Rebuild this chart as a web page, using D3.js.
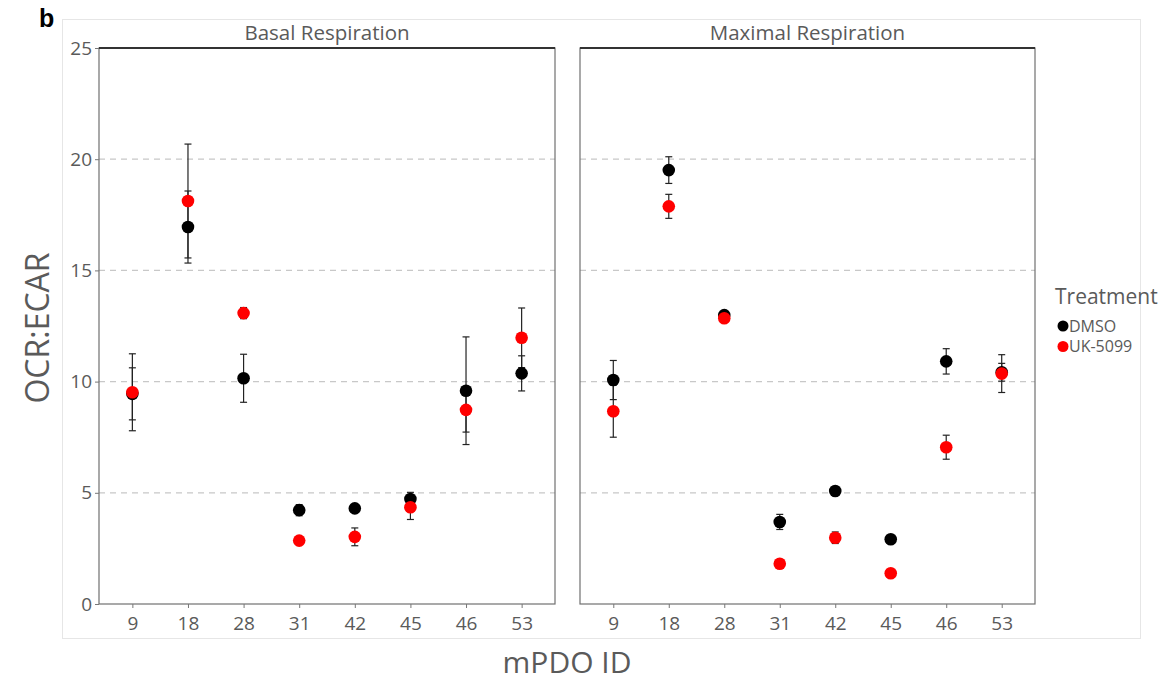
<!DOCTYPE html>
<html>
<head>
<meta charset="utf-8">
<script src="https://cdn.jsdelivr.net/npm/d3@7"></script>
<style>
  html, body { margin: 0; padding: 0; background: #fff; }
  svg { display: block; font-family: "Open Sans", "Noto Sans", sans-serif; }
</style>
</head>
<body>
<svg id="chart" width="1169" height="683"></svg>
<script>
// mPDO lines on the x axis
const ids = ["9", "18", "28", "31", "42", "45", "46", "53"];
const panels = ["Basal Respiration", "Maximal Respiration"];
const treatments = ["DMSO", "UK-5099"];
const yTicks = [0, 5, 10, 15, 20, 25];

// OCR:ECAR means and error half-widths, per panel, in id order
const basalDMSO    = [9.45, 16.95, 10.15, 4.22, 4.30, 4.72, 9.59, 10.37];
const basalDMSOErr = [1.17, 1.62, 1.08, 0.25, 0.10, 0.30, 2.42, 0.79];
const basalUK      = [9.52, 18.12, 13.08, 2.85, 3.02, 4.35, 8.73, 11.97];
const basalUKErr   = [1.73, 2.56, 0.25, 0.15, 0.40, 0.55, 1.00, 1.34];
const maxDMSO      = [10.07, 19.51, 12.99, 3.69, 5.08, 2.91, 10.91, 10.42];
const maxDMSOErr   = [0.88, 0.60, 0.15, 0.34, 0.20, 0.10, 0.57, 0.40];
const maxUK        = [8.67, 17.88, 12.85, 1.81, 2.98, 1.38, 7.05, 10.36];
const maxUKErr     = [1.17, 0.54, 0.15, 0.10, 0.26, 0.10, 0.54, 0.85];

const series = [
  { panel: panels[0], treatment: treatments[0], values: basalDMSO, errs: basalDMSOErr },
  { panel: panels[0], treatment: treatments[1], values: basalUK,   errs: basalUKErr },
  { panel: panels[1], treatment: treatments[0], values: maxDMSO,   errs: maxDMSOErr },
  { panel: panels[1], treatment: treatments[1], values: maxUK,     errs: maxUKErr }
];

const colors = d3.scaleOrdinal().domain(treatments).range(["#000000", "#ff0000"]);

const svg = d3.select("#chart");
const textGray = "#5a5a5a";

// faint frame around the figure
svg.append("rect")
  .attr("x", 62.5).attr("y", 19.5).attr("width", 1078).attr("height", 619)
  .attr("fill", "none").attr("stroke", "#e6e6e6").attr("stroke-width", 1);

svg.append("text").attr("x", 39).attr("y", 27)
  .attr("font-family", "Liberation Sans, Arial, sans-serif")
  .attr("font-weight", "bold").attr("font-size", 25).attr("fill", "#000").text("b");

const plotTop = 48, plotBottom = 604;
const panelX = [[99, 555], [580, 1035]];

const y = d3.scaleLinear().domain([0, 25]).range([plotBottom, plotTop]);

panels.forEach((p, pi) => {
  const [x0, x1] = panelX[pi];
  const x = d3.scalePoint().domain(ids).range([x0, x1]).padding(0.6);
  const g = svg.append("g");

  // dashed gridlines
  g.selectAll("line.grid").data(yTicks.filter(t => t > 0 && t < 25)).join("line")
    .attr("x1", x0).attr("x2", x1)
    .attr("y1", d => y(d)).attr("y2", d => y(d))
    .attr("stroke", "#c8c8c8").attr("stroke-width", 1.2)
    .attr("stroke-dasharray", "6,5");

  // panel border
  g.append("rect").attr("x", x0).attr("y", plotTop).attr("width", x1 - x0).attr("height", plotBottom - plotTop)
    .attr("fill", "none").attr("stroke", "#707070").attr("stroke-width", 1.2);
  g.append("line").attr("x1", x0).attr("x2", x1).attr("y1", plotTop).attr("y2", plotTop)
    .attr("stroke", "#333").attr("stroke-width", 2);

  // panel title
  g.append("text").attr("x", (x0 + x1) / 2).attr("y", 40)
    .attr("text-anchor", "middle").attr("font-size", 20.5).attr("fill", textGray).text(p);

  // x axis
  const xAxis = g.append("g").attr("transform", `translate(0,${plotBottom})`)
    .call(d3.axisBottom(x).tickSize(4).tickPadding(6).tickSizeOuter(0));
  xAxis.select(".domain").remove();
  xAxis.selectAll(".tick line").attr("stroke", "#777");
  xAxis.selectAll(".tick text").attr("font-size", 19).attr("fill", textGray)
    .attr("font-family", "Open Sans, sans-serif").attr("dy", "0.85em");

  if (pi === 0) {
    const yAxis = g.append("g").attr("transform", `translate(${x0},0)`)
      .call(d3.axisLeft(y).tickValues(yTicks).tickSize(4).tickPadding(3).tickSizeOuter(0));
    yAxis.select(".domain").remove();
    yAxis.selectAll(".tick line").attr("stroke", "#777");
    yAxis.selectAll(".tick text").attr("font-size", 19).attr("fill", textGray)
      .attr("font-family", "Open Sans, sans-serif");
  }

  const rows = [];
  series.filter(s => s.panel === p).forEach(s => {
    ids.forEach((id, i) => rows.push({ id, t: s.treatment, v: s.values[i], e: s.errs[i] }));
  });

  // error bars
  const eb = g.selectAll("g.err").data(rows).join("g").attr("class", "err");
  eb.append("line")
    .attr("x1", d => x(d.id)).attr("x2", d => x(d.id))
    .attr("y1", d => y(d.v + d.e)).attr("y2", d => y(d.v - d.e))
    .attr("stroke", "#222").attr("stroke-width", 1.2);
  eb.append("line")
    .attr("x1", d => x(d.id) - 3.5).attr("x2", d => x(d.id) + 3.5)
    .attr("y1", d => y(d.v + d.e)).attr("y2", d => y(d.v + d.e))
    .attr("stroke", "#222").attr("stroke-width", 1.2);
  eb.append("line")
    .attr("x1", d => x(d.id) - 3.5).attr("x2", d => x(d.id) + 3.5)
    .attr("y1", d => y(d.v - d.e)).attr("y2", d => y(d.v - d.e))
    .attr("stroke", "#222").attr("stroke-width", 1.2);

  // points (DMSO first, UK-5099 drawn over it)
  g.selectAll("circle.pt").data(rows).join("circle")
    .attr("cx", d => x(d.id)).attr("cy", d => y(d.v)).attr("r", 6.3)
    .attr("fill", d => colors(d.t));
});

// axis titles
svg.append("text")
  .attr("transform", `translate(49,328) rotate(-90)`)
  .attr("text-anchor", "middle").attr("font-size", 32).attr("fill", textGray).text("OCR:ECAR");
svg.append("text").attr("x", 567).attr("y", 673)
  .attr("text-anchor", "middle").attr("font-size", 30).attr("fill", textGray).text("mPDO ID");

// legend
const lg = svg.append("g").attr("transform", "translate(1055,0)");
lg.append("text").attr("x", 0).attr("y", 304).attr("font-size", 21).attr("fill", textGray).text("Treatment");
treatments.forEach((t, i) => {
  const cy = 326 + i * 20.5;
  lg.append("circle").attr("cx", 8).attr("cy", cy).attr("r", 5.5).attr("fill", colors(t));
  lg.append("text").attr("x", 14).attr("y", cy + 5.5).attr("font-size", 16).attr("fill", textGray).text(t);
});
</script>
</body>
</html>
